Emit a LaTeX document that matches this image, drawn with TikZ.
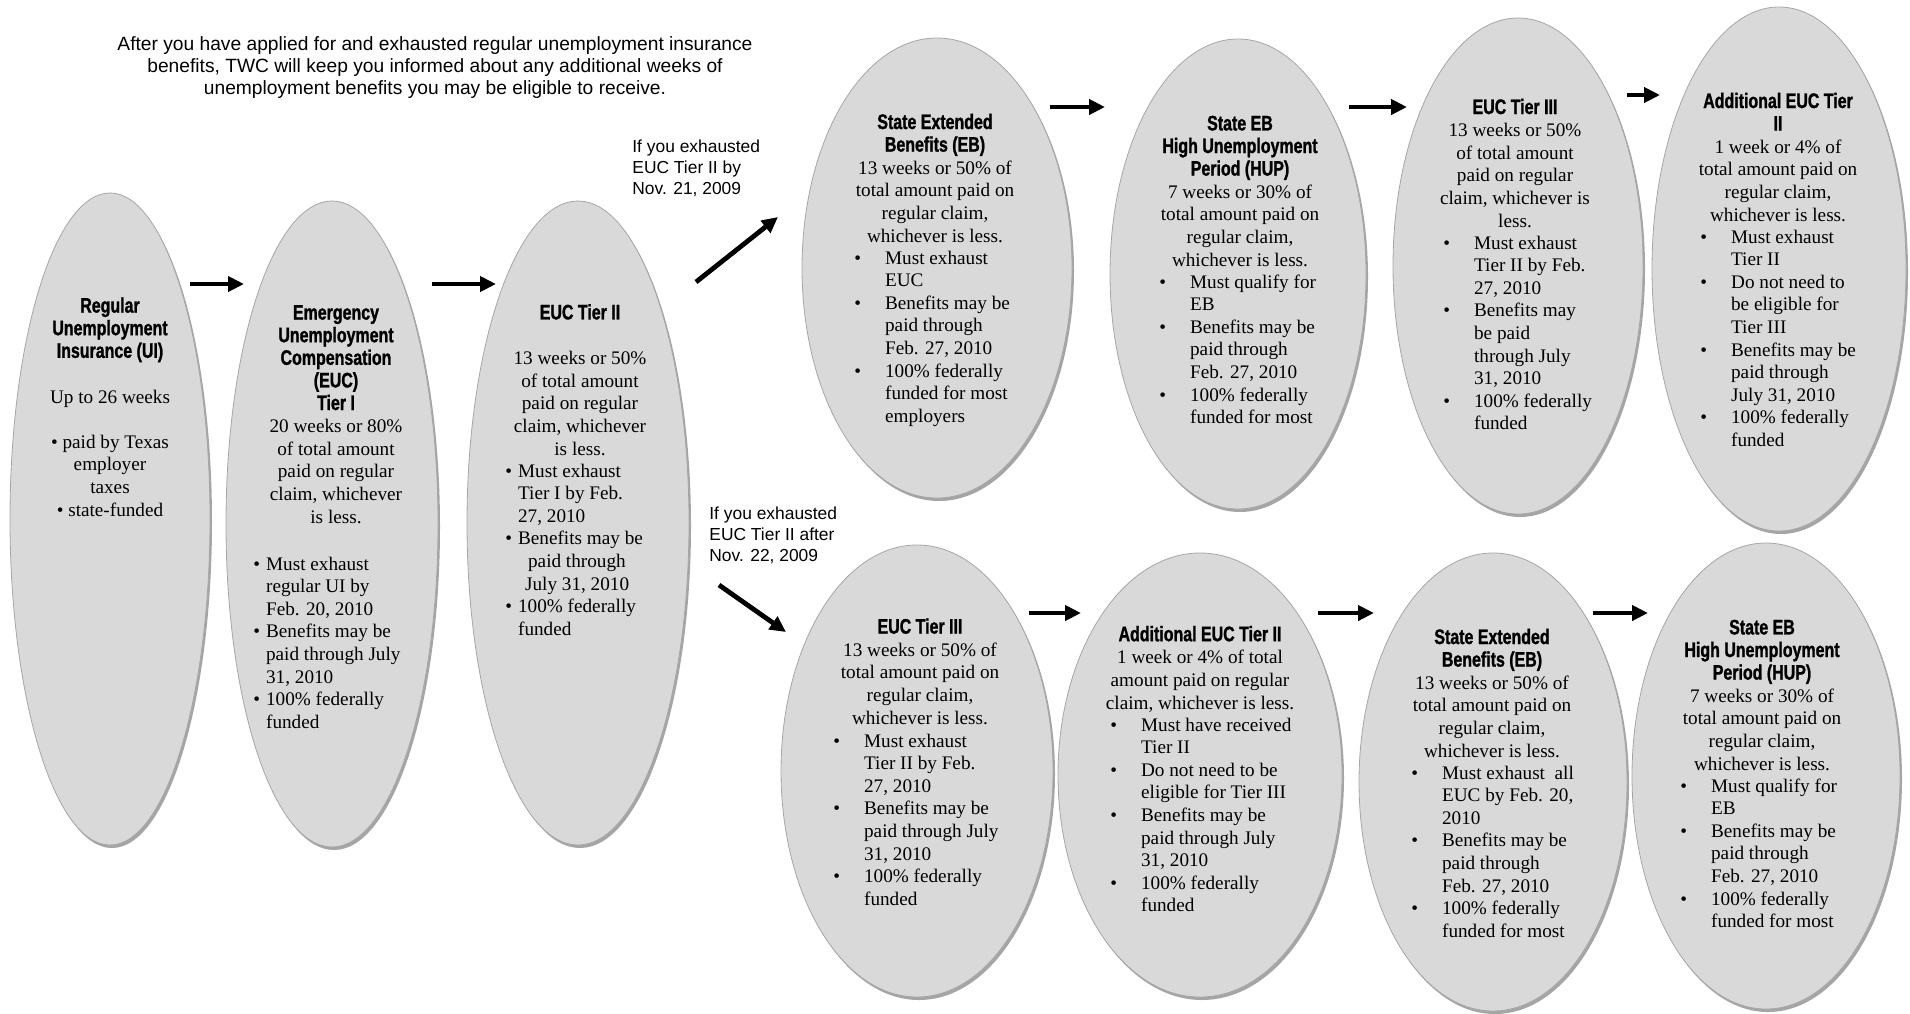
\documentclass[tikz,border=0pt]{standalone}
\usepackage{fontspec}
\setmainfont{Liberation Serif}
\setsansfont{Liberation Sans}
\newfontfamily\headfont[FakeStretch=0.76, BoldFeatures={FakeBold=1.2}]{Liberation Sans}
\usepackage{xcolor}
\usepackage{tikz}
\usetikzlibrary{arrows.meta,positioning,shapes.geometric,shadows}
\definecolor{ovalgray}{RGB}{217,217,217}
\newcommand{\ovhead}[1]{{\headfont\bfseries\fontsize{10.5}{11.3}\selectfont #1}}
\tikzset{
  oval/.style={ellipse, draw=black!35, fill=ovalgray, inner sep=0pt,
               drop shadow={shadow xshift=1pt, shadow yshift=-1.5pt, fill=black!70}},
  ovaltext/.style={align=center, anchor=base, inner sep=0pt,
                   font=\fontsize{9.6}{11.3}\selectfont},
  blist/.style={anchor=base west, inner sep=0pt, font=\fontsize{9.6}{11.3}\selectfont},
  arrow/.style={-{Triangle[length=8pt,width=7.5pt]}, line width=2.4pt, black},
  lbl/.style={font=\sffamily\fontsize{8.7}{10.5}\selectfont, align=left,
              anchor=base west, inner sep=0pt},
}

\begin{document}
\begin{tikzpicture}[x=0.5pt, y=-0.5pt]
  \useasboundingbox (0,0) rectangle (1910,1013);

  % intro text (placed at its last baseline)
  \node[font=\sffamily\fontsize{9.6}{11}\selectfont, align=center, anchor=base, inner sep=0pt]
    (intro) at (435,94) {After you have applied for and exhausted regular unemployment insurance\\
    benefits, TWC will keep you informed about any additional weeks of\\
    unemployment benefits you may be eligible to receive.};

  % left column of ovals
  \node[oval, minimum width=100pt, minimum height=326pt] (ui) at (110,519) {};
  \node[oval, minimum width=106pt, minimum height=323pt] (tier1) at (332,524) {};
  \node[oval, minimum width=111pt, minimum height=322pt] (tier2) at (578,523) {};

  \node[ovaltext] (ui-t) at (110,516) {\ovhead{Regular}\\\ovhead{Unemployment}\\\ovhead{Insurance (UI)}\\[11.3pt]
    Up to 26 weeks\\[11.3pt]
    \textbullet{} paid by Texas\\employer\\taxes\\\textbullet{} state-funded};

  \node[ovaltext] (tier1-t) at (336,523) {\ovhead{Emergency}\\\ovhead{Unemployment}\\\ovhead{Compensation}\\
    \ovhead{(EUC)}\\\ovhead{Tier I}\\20 weeks or 80\%\\of total amount\\paid on regular\\claim, whichever\\is less.};
  \node[blist] (tier1-l) at (253,570) {\begin{tabular}[t]{@{}l@{\hspace{3pt}}l@{}}
    \textbullet & Must exhaust\\ & regular UI by\\ & Feb. 20, 2010\\
    \textbullet & Benefits may be\\ & paid through July\\ & 31, 2010\\
    \textbullet & 100\% federally\\ & funded\end{tabular}};

  \node[ovaltext] (tier2-t) at (580,455) {\ovhead{EUC Tier II}\\[11.3pt]
    13 weeks or 50\%\\of total amount\\paid on regular\\claim, whichever\\is less.};
  \node[blist] (tier2-l) at (505,477) {\begin{tabular}[t]{@{}l@{\hspace{3pt}}l@{}}
    \textbullet & Must exhaust\\ & Tier I by Feb.\\ & 27, 2010\\
    \textbullet & Benefits may be\\ & \hspace{5pt}paid through\\ & \hspace{3.5pt}July 31, 2010\\
    \textbullet & 100\% federally\\ & funded\end{tabular}};

  % upper row (by Nov. 21, 2009)
  \node[oval, minimum width=135pt, minimum height=230pt] (eb) at (937,268) {};
  \node[oval, minimum width=128pt, minimum height=235pt] (hup) at (1238,274) {};
  \node[oval, minimum width=125pt, minimum height=248pt] (tier3) at (1518,266) {};
  \node[oval, minimum width=127pt, minimum height=262pt] (add) at (1779,269) {};

  \node[ovaltext] (eb-t) at (935,242) {\ovhead{State Extended}\\\ovhead{Benefits (EB)}\\
    13 weeks or 50\% of\\total amount paid on\\regular claim,\\whichever is less.};
  \node[blist] (eb-l) at (854,264) {\begin{tabular}[t]{@{}l@{\hspace{12pt}}l@{}}
    \textbullet & Must exhaust\\ & EUC\\
    \textbullet & Benefits may be\\ & paid through\\ & Feb. 27, 2010\\
    \textbullet & 100\% federally\\ & funded for most\\ & employers\end{tabular}};

  \node[ovaltext] (hup-t) at (1240,266) {\ovhead{State EB}\\\ovhead{High Unemployment}\\\ovhead{Period (HUP)}\\
    7 weeks or 30\% of\\total amount paid on\\regular claim,\\whichever is less.};
  \node[blist] (hup-l) at (1159,288) {\begin{tabular}[t]{@{}l@{\hspace{12pt}}l@{}}
    \textbullet & Must qualify for\\ & EB\\
    \textbullet & Benefits may be\\ & paid through\\ & Feb. 27, 2010\\
    \textbullet & 100\% federally\\ & funded for most\end{tabular}};

  \node[ovaltext] (tier3-t) at (1515,227) {\ovhead{EUC Tier III}\\
    13 weeks or 50\%\\of total amount\\paid on regular\\claim, whichever is\\less.};
  \node[blist] (tier3-l) at (1443,249) {\begin{tabular}[t]{@{}l@{\hspace{12pt}}l@{}}
    \textbullet & Must exhaust\\ & Tier II by Feb.\\ & 27, 2010\\
    \textbullet & Benefits may\\ & be paid\\ & through July\\ & 31, 2010\\
    \textbullet & 100\% federally\\ & funded\end{tabular}};

  \node[ovaltext] (add-t) at (1778,221) {\ovhead{Additional EUC Tier}\\\ovhead{II}\\
    1 week or 4\% of\\total amount paid on\\regular claim,\\whichever is less.};
  \node[blist] (add-l) at (1700,243) {\begin{tabular}[t]{@{}l@{\hspace{12pt}}l@{}}
    \textbullet & Must exhaust\\ & Tier II\\
    \textbullet & Do not need to\\ & be eligible for\\ & Tier III\\
    \textbullet & Benefits may be\\ & paid through\\ & July 31, 2010\\
    \textbullet & 100\% federally\\ & funded\end{tabular}};

  % lower row (after Nov. 22, 2009)
  \node[oval, minimum width=136pt, minimum height=226pt] (tier3b) at (917,771) {};
  \node[oval, minimum width=142pt, minimum height=222pt] (addb) at (1200,775) {};
  \node[oval, minimum width=134pt, minimum height=229pt] (ebb) at (1493,782) {};
  \node[oval, minimum width=134pt, minimum height=233pt] (hupb) at (1766,776) {};

  \node[ovaltext] (tier3b-t) at (920,724) {\ovhead{EUC Tier III}\\
    13 weeks or 50\% of\\total amount paid on\\regular claim,\\whichever is less.};
  \node[blist] (tier3b-l) at (833,747) {\begin{tabular}[t]{@{}l@{\hspace{12pt}}l@{}}
    \textbullet & Must exhaust\\ & Tier II by Feb.\\ & 27, 2010\\
    \textbullet & Benefits may be\\ & paid through July\\ & 31, 2010\\
    \textbullet & 100\% federally\\ & funded\end{tabular}};

  \node[ovaltext] (addb-t) at (1200,709) {\ovhead{Additional EUC Tier II}\\
    1 week or 4\% of total\\amount paid on regular\\claim, whichever is less.};
  \node[blist] (addb-l) at (1110,731) {\begin{tabular}[t]{@{}l@{\hspace{12pt}}l@{}}
    \textbullet & Must have received\\ & Tier II\\
    \textbullet & Do not need to be\\ & eligible for Tier III\\
    \textbullet & Benefits may be\\ & paid through July\\ & 31, 2010\\
    \textbullet & 100\% federally\\ & funded\end{tabular}};

  \node[ovaltext] (ebb-t) at (1492,757) {\ovhead{State Extended}\\\ovhead{Benefits (EB)}\\
    13 weeks or 50\% of\\total amount paid on\\regular claim,\\whichever is less.};
  \node[blist] (ebb-l) at (1411,779) {\begin{tabular}[t]{@{}l@{\hspace{12pt}}l@{}}
    \textbullet & Must exhaust\ \ all\\ & EUC by Feb. 20,\\ & 2010\\
    \textbullet & Benefits may be\\ & paid through\\ & Feb. 27, 2010\\
    \textbullet & 100\% federally\\ & funded for most\end{tabular}};

  \node[ovaltext] (hupb-t) at (1762,770) {\ovhead{State EB}\\\ovhead{High Unemployment}\\\ovhead{Period (HUP)}\\
    7 weeks or 30\% of\\total amount paid on\\regular claim,\\whichever is less.};
  \node[blist] (hupb-l) at (1680,792) {\begin{tabular}[t]{@{}l@{\hspace{12pt}}l@{}}
    \textbullet & Must qualify for\\ & EB\\
    \textbullet & Benefits may be\\ & paid through\\ & Feb. 27, 2010\\
    \textbullet & 100\% federally\\ & funded for most\end{tabular}};

  % branch labels (placed at their last baseline)
  \node[lbl] (byl) at (632,194) {If you exhausted\\EUC Tier II by\\Nov. 21, 2009};
  \node[lbl] (afterl) at (709,561) {If you exhausted\\EUC Tier II after\\Nov. 22, 2009};

  % arrow ends
  \coordinate (ui-o) at (190,284);     \coordinate (tier1-i) at (244,284);
  \coordinate (tier1-o) at (432,284);  \coordinate (tier2-i) at (496,284);
  \coordinate (tier2-up) at (696,282); \coordinate (eb-i) at (778,217);
  \coordinate (tier2-dn) at (719,585); \coordinate (tier3b-i) at (786,632);
  \coordinate (eb-o) at (1050,107);    \coordinate (hup-i) at (1105,107);
  \coordinate (hup-o) at (1349,107);   \coordinate (tier3-i) at (1407,107);
  \coordinate (tier3-o) at (1627,95);  \coordinate (add-i) at (1660,95);
  \coordinate (tier3b-o) at (1029,613); \coordinate (addb-i) at (1081,613);
  \coordinate (addb-o) at (1318,613);  \coordinate (ebb-i) at (1374,613);
  \coordinate (ebb-o) at (1593,613);   \coordinate (hupb-i) at (1648,613);

  \draw[arrow] (ui-o) -- (tier1-i);
  \draw[arrow] (tier1-o) -- (tier2-i);
  \draw[arrow] (tier2-up) -- (eb-i);
  \draw[arrow] (tier2-dn) -- (tier3b-i);
  \draw[arrow] (eb-o) -- (hup-i);
  \draw[arrow] (hup-o) -- (tier3-i);
  \draw[arrow] (tier3-o) -- (add-i);
  \draw[arrow] (tier3b-o) -- (addb-i);
  \draw[arrow] (addb-o) -- (ebb-i);
  \draw[arrow] (ebb-o) -- (hupb-i);
\end{tikzpicture}
\end{document}
